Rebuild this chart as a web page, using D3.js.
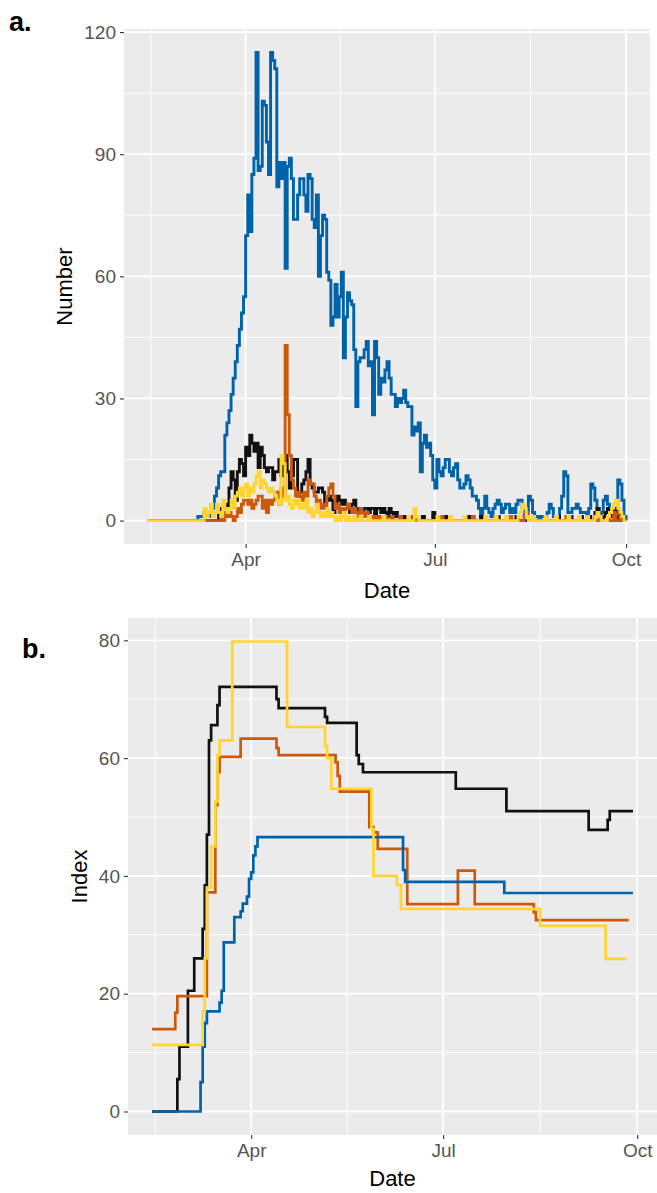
<!DOCTYPE html>
<html>
<head>
<meta charset="utf-8">
<script src="https://cdn.jsdelivr.net/npm/d3@7"></script>
<style>
  body { margin: 0; background: #fff; }
  text { font-family: 'Liberation Sans', Arial, sans-serif; }
</style>
</head>
<body>
<div id="root"></div>
<script>
'use strict';

// ---- panel a : daily numbers, first value is 2020-02-14, one value per day up to 2020-10-01
const dailyStart = '2020-02-14';

const numberBlue = [
  0, 0, 0, 0, 0, 0, 0, 0, 0, 0,
  0, 0, 0, 0, 0, 0, 0, 0, 0, 0,
  0, 0, 0, 0, 1, 1, 1, 2, 1, 1,
  2, 3, 6, 8, 11, 12, 12, 21, 24, 27,
  31, 35, 39, 43, 47, 51, 55, 70, 80, 71,
  85, 89, 115, 86, 87, 103, 102, 93, 85, 115,
  113, 111, 82, 88, 84, 88, 62, 87, 89, 84,
  74, 74, 80, 84, 84, 80, 76, 85, 84, 74,
  72, 80, 60, 70, 75, 74, 61, 59, 48, 50,
  58, 50, 55, 61, 40, 50, 56, 54, 53, 42,
  28, 39, 40, 40, 42, 44, 38, 39, 26, 44,
  40, 31, 35, 34, 37, 39, 35, 31, 31, 28,
  30, 29, 30, 32, 29, 28, 28, 21, 23, 22,
  24, 12, 19, 21, 18, 19, 16, 10, 8, 15,
  12, 11, 13, 15, 15, 12, 11, 13, 14, 10,
  8, 8, 9, 11, 10, 8, 6, 6, 5, 3,
  1, 3, 6, 3, 2, 1, 3, 4, 5, 4,
  2, 3, 4, 4, 2, 3, 2, 4, 5, 5,
  3, 1, 2, 6, 5, 2, 1, 1, 0, 1,
  1, 1, 2, 4, 3, 1, 1, 1, 3, 6,
  12, 11, 2, 2, 3, 3, 4, 3, 2, 2,
  2, 1, 3, 9, 8, 5, 3, 1, 2, 5,
  6, 4, 2, 1, 1, 2, 10, 9, 5, 1,
  0
];

const numberBlack = [
  0, 0, 0, 0, 0, 0, 0, 0, 0, 0,
  0, 0, 0, 0, 0, 0, 0, 0, 0, 0,
  0, 0, 0, 0, 0, 0, 0, 0, 0, 0,
  0, 0, 0, 0, 2, 3, 3, 4, 3, 8,
  12, 10, 5, 12, 15, 14, 11, 18, 16, 21,
  19, 17, 19, 13, 18, 16, 13, 12, 13, 13,
  10, 12, 12, 15, 11, 14, 16, 12, 8, 11,
  15, 15, 6, 7, 9, 10, 12, 15, 9, 8,
  7, 7, 8, 8, 7, 4, 5, 6, 5, 2,
  4, 6, 5, 4, 5, 4, 3, 2, 4, 5,
  3, 2, 3, 2, 3, 3, 2, 3, 3, 1,
  3, 3, 2, 3, 2, 1, 3, 2, 1, 2,
  1, 0, 0, 1, 0, 0, 1, 0, 0, 0,
  0, 0, 1, 0, 0, 0, 0, 2, 0, 0,
  0, 0, 0, 1, 0, 0, 0, 0, 0, 0,
  0, 0, 0, 0, 1, 0, 0, 0, 0, 0,
  1, 0, 0, 0, 0, 0, 0, 0, 1, 0,
  0, 0, 0, 0, 0, 0, 0, 1, 0, 0,
  0, 0, 0, 0, 0, 1, 0, 0, 0, 0,
  0, 0, 0, 0, 0, 0, 0, 1, 0, 0,
  0, 0, 0, 1, 0, 0, 0, 0, 1, 0,
  0, 0, 1, 0, 0, 2, 3, 1, 0, 1,
  2, 3, 1, 2, 3, 1, 0, 2, 1, 0,
  0
];

const numberOrange = [
  0, 0, 0, 0, 0, 0, 0, 0, 0, 0,
  0, 0, 0, 0, 0, 0, 0, 0, 0, 0,
  0, 0, 0, 0, 0, 0, 0, 0, 0, 0,
  0, 0, 0, 0, 0, 1, 0, 2, 1, 2,
  1, 0, 1, 3, 2, 4, 5, 5, 4, 5,
  3, 4, 5, 6, 6, 3, 5, 2, 5, 4,
  5, 7, 7, 4, 8, 6, 43, 26, 16, 10,
  8, 6, 7, 6, 5, 7, 6, 10, 9, 9,
  6, 4, 5, 3, 4, 3, 6, 8, 9, 6,
  3, 4, 2, 3, 2, 3, 4, 3, 2, 3,
  2, 1, 3, 2, 1, 2, 1, 1, 0, 1,
  0, 1, 0, 0, 1, 0, 0, 1, 0, 0,
  0, 1, 0, 0, 0, 0, 0, 0, 1, 0,
  0, 0, 0, 0, 0, 0, 0, 0, 0, 0,
  0, 1, 0, 0, 0, 0, 0, 0, 0, 0,
  0, 0, 0, 0, 0, 0, 1, 0, 0, 0,
  0, 0, 0, 0, 0, 0, 0, 0, 0, 0,
  0, 0, 0, 0, 1, 0, 0, 0, 0, 0,
  0, 1, 2, 0, 0, 0, 0, 0, 0, 0,
  0, 0, 0, 0, 0, 0, 0, 0, 0, 0,
  0, 1, 0, 0, 0, 0, 0, 0, 0, 0,
  0, 0, 0, 0, 0, 0, 0, 1, 0, 0,
  0, 1, 0, 0, 2, 0, 0, 1, 0, 0,
  0
];

const numberYellow = [
  0, 0, 0, 0, 0, 0, 0, 0, 0, 0,
  0, 0, 0, 0, 0, 0, 0, 0, 0, 0,
  0, 0, 0, 0, 0, 0, 0, 3, 1, 2,
  4, 1, 2, 4, 2, 1, 5, 3, 2, 3,
  5, 3, 6, 7, 8, 6, 8, 9, 6, 8,
  7, 9, 11, 12, 8, 10, 9, 8, 7, 8,
  7, 6, 5, 4, 16, 14, 5, 6, 4, 3,
  5, 4, 5, 3, 4, 3, 5, 2, 3, 1,
  2, 4, 2, 1, 2, 1, 3, 1, 2, 1,
  0, 1, 0, 1, 2, 0, 1, 0, 0, 1,
  0, 0, 1, 0, 0, 0, 1, 0, 0, 0,
  0, 0, 0, 1, 0, 0, 0, 0, 0, 0,
  0, 0, 0, 0, 0, 1, 0, 0, 3, 1,
  0, 0, 0, 0, 0, 0, 0, 0, 0, 1,
  0, 0, 0, 0, 0, 1, 0, 0, 0, 0,
  0, 0, 1, 0, 0, 0, 0, 0, 0, 0,
  0, 0, 1, 0, 0, 0, 0, 1, 0, 0,
  0, 0, 1, 0, 0, 0, 0, 0, 1, 2,
  4, 3, 1, 0, 0, 1, 0, 0, 0, 0,
  0, 1, 0, 0, 0, 0, 1, 0, 0, 0,
  0, 0, 1, 0, 0, 0, 0, 1, 0, 0,
  0, 1, 0, 0, 0, 1, 2, 1, 0, 0,
  0, 1, 2, 3, 4, 5, 3, 2, 1, 0,
  0
];

// ---- panel b : index, step changes [date, value]; last pair marks the end of the line
const indexBlack = [
  ['2020-02-14', 0], ['2020-02-26', 5.5], ['2020-02-27', 11], ['2020-03-02', 20.5],
  ['2020-03-05', 26], ['2020-03-09', 31], ['2020-03-10', 38.4], ['2020-03-11', 47],
  ['2020-03-12', 63], ['2020-03-13', 65.6], ['2020-03-16', 69], ['2020-03-17', 72.1],
  ['2020-04-13', 70], ['2020-04-14', 68.5], ['2020-05-06', 67], ['2020-05-07', 66],
  ['2020-05-21', 60.5], ['2020-05-22', 59], ['2020-05-24', 57.6], ['2020-07-07', 54.8],
  ['2020-07-31', 51], ['2020-09-08', 47.8], ['2020-09-17', 49.5], ['2020-09-18', 51],
  ['2020-09-29', 51]
];

const indexBlue = [
  ['2020-02-14', 0], ['2020-03-08', 5], ['2020-03-09', 11], ['2020-03-10', 15],
  ['2020-03-11', 17], ['2020-03-17', 18.5], ['2020-03-18', 20.5], ['2020-03-19', 28.7],
  ['2020-03-24', 33], ['2020-03-27', 34], ['2020-03-28', 35.3], ['2020-03-30', 36.5],
  ['2020-03-31', 39.5], ['2020-04-01', 40.6], ['2020-04-02', 43.5], ['2020-04-03', 45],
  ['2020-04-04', 46.6], ['2020-06-12', 41], ['2020-06-13', 39], ['2020-07-30', 37.1],
  ['2020-09-29', 37.1]
];

const indexOrange = [
  ['2020-02-14', 14], ['2020-02-25', 16.8], ['2020-02-26', 19.6], ['2020-03-11', 37.2],
  ['2020-03-15', 52], ['2020-03-16', 57.6], ['2020-03-17', 60.2], ['2020-03-27', 63.3],
  ['2020-04-13', 61.7], ['2020-04-14', 60.5], ['2020-05-11', 59.3], ['2020-05-12', 57],
  ['2020-05-13', 54.3], ['2020-05-27', 48.3], ['2020-05-29', 47.4], ['2020-05-31', 44.6],
  ['2020-06-14', 35.2], ['2020-07-08', 40.9], ['2020-07-16', 35.2], ['2020-08-13', 33.8],
  ['2020-08-14', 32.5], ['2020-09-27', 32.5]
];

const indexYellow = [
  ['2020-02-14', 11.3], ['2020-03-09', 17], ['2020-03-10', 26], ['2020-03-11', 38],
  ['2020-03-13', 45], ['2020-03-15', 52.6], ['2020-03-16', 60.5], ['2020-03-17', 63],
  ['2020-03-23', 79.8], ['2020-04-18', 65.3], ['2020-05-06', 62], ['2020-05-07', 60],
  ['2020-05-09', 54.8], ['2020-05-28', 48], ['2020-05-29', 40], ['2020-06-09', 38.5],
  ['2020-06-11', 34.4], ['2020-08-16', 31.5], ['2020-09-16', 25.9], ['2020-09-26', 25.9]
];

// ---- ticks
const monthBreaks = ['2020-01-01', '2020-04-01', '2020-07-01', '2020-10-01'];
const monthLabels = ['', 'Apr', 'Jul', 'Oct'];
const numberTicks = [0, 30, 60, 90, 120];
const indexTicks  = [0, 20, 40, 60, 80];

const colors = { blue: '#0063A9', black: '#111111', orange: '#CC5A0A', yellow: '#FFD52E' };

const W = 657, H = 1193;
const parseDay = d3.utcParse('%Y-%m-%d');

const svg = d3.select('#root')
              .append('svg')
              .attr('width', W)
              .attr('height', H)
              .style('display', 'block');

function expand(lo, hi) {
  const pad = (hi - lo) * 0.05;
  return [lo - pad, hi + pad];
}

function dailyPoints(values) {
  const start = parseDay(dailyStart);
  return values.map((v, i) => [d3.utcDay.offset(start, i), v]);
}

function stepPoints(pairs) {
  return pairs.map((p) => [parseDay(p[0]), p[1]]);
}

function midpoints(list) {
  return list.slice(1).map((v, i) => (list[i] + v) / 2);
}

function drawPanel(o) {
  const xExt = d3.extent(o.series.flatMap((s) => s.points.map((p) => +p[0]))),
        yMax = d3.max(o.series.flatMap((s) => s.points.map((p) => p[1]))),
        xd = expand(xExt[0], xExt[1]),
        yd = expand(0, yMax),

        xScale = d3.scaleUtc()
                   .domain([new Date(xd[0]), new Date(xd[1])])
                   .range([o.left, o.right]),

        yScale = d3.scaleLinear()
                   .domain(yd)
                   .range([o.bottom, o.top]);

  const g = svg.append('g');

  g.append('rect')
   .attr('x', o.left)
   .attr('y', o.top)
   .attr('width', o.right - o.left)
   .attr('height', o.bottom - o.top)
   .attr('fill', '#EBEBEB');

  const majorX = monthBreaks.map(parseDay),
        minorX = midpoints(majorX.map((d) => +d)).map((t) => new Date(t)),
        minorY = midpoints(o.yTicks);

  const inX = (d) => +d >= xd[0] && +d <= xd[1];

  g.selectAll('.minor-y')
   .data(minorY)
   .enter()
   .append('line')
   .attr('x1', o.left).attr('x2', o.right)
   .attr('y1', (d) => yScale(d)).attr('y2', (d) => yScale(d))
   .attr('stroke', '#fff').attr('stroke-width', 0.9);

  g.selectAll('.minor-x')
   .data(minorX.filter(inX))
   .enter()
   .append('line')
   .attr('y1', o.top).attr('y2', o.bottom)
   .attr('x1', (d) => xScale(d)).attr('x2', (d) => xScale(d))
   .attr('stroke', '#fff').attr('stroke-width', 0.9);

  g.selectAll('.major-y')
   .data(o.yTicks)
   .enter()
   .append('line')
   .attr('x1', o.left).attr('x2', o.right)
   .attr('y1', (d) => yScale(d)).attr('y2', (d) => yScale(d))
   .attr('stroke', '#fff').attr('stroke-width', 1.8);

  g.selectAll('.major-x')
   .data(majorX.filter(inX))
   .enter()
   .append('line')
   .attr('y1', o.top).attr('y2', o.bottom)
   .attr('x1', (d) => xScale(d)).attr('x2', (d) => xScale(d))
   .attr('stroke', '#fff').attr('stroke-width', 1.8);

  const line = d3.line()
                 .curve(d3.curveStepAfter)
                 .x((p) => xScale(p[0]))
                 .y((p) => yScale(p[1]));

  o.series.forEach((s) => {
    g.append('path')
     .datum(s.points)
     .attr('d', line)
     .attr('fill', 'none')
     .attr('stroke', s.color)
     .attr('stroke-width', o.lineWidth);
  });

  // axes
  const xAxis = d3.axisBottom(xScale)
                  .tickValues(majorX.filter(inX))
                  .tickFormat((d) => monthLabels[majorX.findIndex((m) => +m === +d)])
                  .tickSize(4)
                  .tickPadding(5),
        yAxis = d3.axisLeft(yScale)
                  .tickValues(o.yTicks)
                  .tickSize(4)
                  .tickPadding(4);

  const gx = g.append('g')
              .attr('transform', 'translate(0, ' + o.bottom + ')')
              .call(xAxis);
  const gy = g.append('g')
              .attr('transform', 'translate(' + o.left + ', 0)')
              .call(yAxis);

  [gx, gy].forEach((ax) => {
    ax.select('.domain').remove();
    ax.selectAll('line').attr('stroke', '#333').attr('stroke-width', 1.1);
    ax.selectAll('text')
      .attr('fill', '#555')
      .style('font-size', '19px')
      .style('font-family', "'Liberation Sans', Arial, sans-serif");
  });

  g.append('text')
   .attr('x', (o.left + o.right) / 2)
   .attr('y', o.dateY)
   .attr('text-anchor', 'middle')
   .style('font-size', '22px')
   .text('Date');

  g.append('text')
   .attr('transform', 'translate(' + o.titleX + ', ' + (o.top + o.bottom) / 2 + ') rotate(-90)')
   .attr('text-anchor', 'middle')
   .style('font-size', '22px')
   .text(o.yTitle);

  g.append('text')
   .attr('x', o.tagX)
   .attr('y', o.tagY)
   .style('font-size', '27px')
   .style('font-weight', 'bold')
   .text(o.tag);
}

drawPanel({
  tag: 'a.', tagX: 9, tagY: 31,
  yTitle: 'Number', titleX: 72,
  left: 124, right: 650, top: 29, bottom: 544,
  dateY: 598, lineWidth: 2.9,
  yTicks: numberTicks,
  series: [
    { color: colors.blue,   points: dailyPoints(numberBlue) },
    { color: colors.black,  points: dailyPoints(numberBlack) },
    { color: colors.orange, points: dailyPoints(numberOrange) },
    { color: colors.yellow, points: dailyPoints(numberYellow) }
  ]
});

drawPanel({
  tag: 'b.', tagX: 22, tagY: 658,
  yTitle: 'Index', titleX: 87,
  left: 128, right: 657, top: 618, bottom: 1135,
  dateY: 1186, lineWidth: 2.7,
  yTicks: indexTicks,
  series: [
    { color: colors.black,  points: stepPoints(indexBlack) },
    { color: colors.orange, points: stepPoints(indexOrange) },
    { color: colors.blue,   points: stepPoints(indexBlue) },
    { color: colors.yellow, points: stepPoints(indexYellow) }
  ]
});
</script>
</body>
</html>
